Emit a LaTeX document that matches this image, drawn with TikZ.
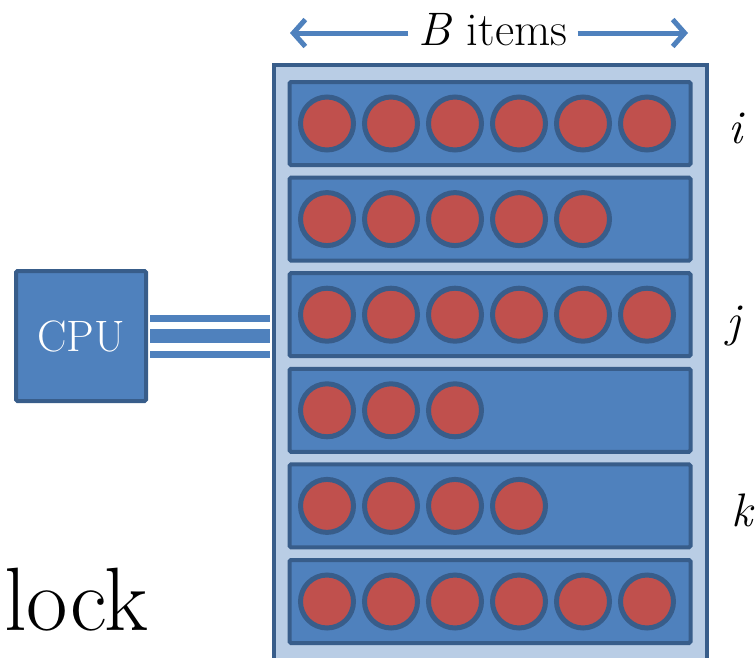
\documentclass[tikz,border=0pt]{standalone}
\usepackage{fontspec}
\usepackage{tikz}
\usetikzlibrary{arrows.meta}
\definecolor{bleu}{HTML}{4F81BD}
\definecolor{bleufonce}{HTML}{385D8A}
\definecolor{bleuclair}{HTML}{B9CDE5}
\definecolor{rouge}{HTML}{C0504D}
\tikzset{
  blockbox/.style={draw=bleufonce,fill=bleuclair,line width=4pt,inner sep=0pt},
  rowbox/.style={draw=bleufonce,fill=bleu,line width=4pt,inner sep=0pt,
    minimum width=401pt,minimum height=83pt,rounded corners=1.5pt},
  item/.style={circle,draw=bleufonce,fill=rouge,line width=5pt,inner sep=0pt,minimum size=53pt},
  cpubox/.style={draw=bleufonce,fill=bleu,line width=4pt,minimum size=130pt,
    rounded corners=1.5pt,text=white,font=\fontsize{44}{48}\selectfont},
  bus/.style={draw=bleu,shorten <=2pt,shorten >=2pt},
  fleche/.style={draw=bleu,line width=5pt,-{Straight Barb[length=12pt,width=27pt]}},
  lettre/.style={font=\fontsize{47}{52}\selectfont}
}
\begin{document}
\begin{tikzpicture}[x=1pt,y=-1pt]
\clip (0,0) rectangle (755,657);
%bloc
\node[blockbox,minimum width=433pt,minimum height=640pt] (block) at (490,385) {};
%lignes et items
\foreach \r/\n in {0/6,1/5,2/6,3/3,4/4,5/6}{
  \node[rowbox] (row\r) at (490,{123.5+95.6*\r}) {};
  \foreach \m in {1,...,\n}
    \node[item] (it\r\m) at ({327+64*(\m-1)},{123.5+95.6*\r}) {};
}
%processeur
\node[cpubox] (cpu) at (81,336) {CPU};
\draw[bus,line width=7pt] ([yshift=17.5pt]cpu.east) -- ([yshift=17.5pt]cpu.east -| block.west);
\draw[bus,line width=14pt] (cpu.east) -- (cpu.east -| block.west);
\draw[bus,line width=7pt] ([yshift=-18pt]cpu.east) -- ([yshift=-18pt]cpu.east -| block.west);
%largeur
\node[lettre,inner sep=10pt] (larg) at (493,30) {\textit{B} items};
\coordinate (gauche) at (290,33);
\coordinate (droite) at (688,33);
\draw[fleche] (larg.west |- gauche) -- (gauche);
\draw[fleche] (larg.east |- droite) -- (droite);
%indices
\node[lettre] (li) at (737,128) {\textit{i}};
\node[lettre] (lj) at (735,326) {\textit{j}};
\node[lettre] (lk) at (743,510) {\textit{k}};
%mot
\node[font=\fontsize{90}{94}\selectfont,anchor=base west,inner sep=0pt] (mot) at (4,630) {lock};
\end{tikzpicture}
\end{document}
